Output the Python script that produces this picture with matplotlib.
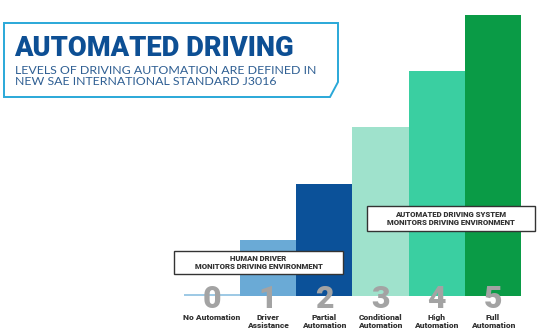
import matplotlib
matplotlib.use("Agg")
import matplotlib.pyplot as plt
from matplotlib.patches import Polygon, Rectangle

# Daten
levels = [0, 1, 2, 3, 4, 5]
heights = [0, 1, 2, 3, 4, 5]
names = ["No Automation", "Driver\nAssistance", "Partial\nAutomation",
         "Conditional\nAutomation", "High\nAutomation", "Full\nAutomation"]
colors = ["#8cc0e0", "#6aaad6", "#0b5199", "#9fe2cc", "#3acfa1", "#0a9b46"]

title = "AUTOMATED DRIVING"
subtitle = "LEVELS OF DRIVING AUTOMATION ARE DEFINED IN\nNEW SAE INTERNATIONAL STANDARD J3016"
box_human = "HUMAN DRIVER\nMONITORS DRIVING ENVIRONMENT"
box_system = "AUTOMATED DRIVING SYSTEM\nMONITORS DRIVING ENVIRONMENT"

BOLD = ["Roboto", "DejaVu Sans"]

W, H = 540, 333
fig = plt.figure(figsize=(W / 100, H / 100), dpi=100)
fig.patch.set_facecolor("white")

# Achse fuer die Balken (Pixelpositionen aus der Vorlage)
x0, x1 = 183.6, 521.0
base, top = 296.0, 15.0
ax = fig.add_axes([x0 / W, (H - base) / H, (x1 - x0) / W, (base - top) / H])
ax.set_xlim(-0.5, 5.5)
ax.set_ylim(0, 5)
ax.axis("off")

ax.bar(levels[1:], heights[1:], width=1.0, color=colors[1:], linewidth=0)
# Stufe 0: nur duenne Linie
ax.plot([-0.5, 0.5], [0.02, 0.02], color=colors[0], lw=1.2, solid_capstyle="butt")

tr = ax.get_xaxis_transform()
for lv, nm in zip(levels, names):
    ax.text(lv, -0.012, str(lv), transform=tr, ha="center", va="center",
            fontsize=23, fontweight="heavy", color="#a3a3a3", family=BOLD,
            clip_on=False)
    ax.text(lv, -0.063, nm, transform=tr, ha="center", va="top",
            fontsize=6.0, fontweight="heavy", color="#333333", family=BOLD,
            linespacing=1.25, clip_on=False)

# Kaesten
def label_box(xa, ya, xb, yb, txt):
    fig.patches.append(Rectangle((xa / W, 1 - yb / H), (xb - xa) / W, (yb - ya) / H,
                                 transform=fig.transFigure, facecolor="white",
                                 edgecolor="#333333", lw=1.0, zorder=5))
    fig.text((xa + xb) / 2 / W, 1 - (ya + yb) / 2 / H, txt, ha="center", va="center",
             fontsize=5.6, fontweight="heavy", color="#333333", family=BOLD,
             linespacing=1.3, zorder=6)

label_box(174, 251, 343, 274, box_human)
label_box(367, 206, 535, 231, box_system)

# Titelrahmen
pts = [(4, 23), (338, 23), (338, 82), (330, 97), (4, 97)]
fig.patches.append(Polygon([(px / W, 1 - py / H) for px, py in pts], closed=True,
                           transform=fig.transFigure, facecolor="none",
                           edgecolor="#2aa8d8", lw=1.4))

fig.text(14 / W, 1 - 56 / H, title, ha="left", va="baseline", fontsize=19.6,
         fontweight="heavy", color="#0d4f94", family=BOLD)
fig.text(15 / W, 1 - 85 / H, subtitle, ha="left", va="baseline", fontsize=8.9,
         color="#2f5f93", family="Lato", linespacing=1.05)

fig.savefig("out.png", dpi=100)
